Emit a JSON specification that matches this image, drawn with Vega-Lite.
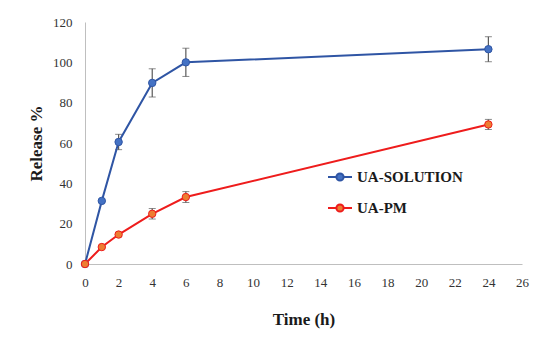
{
  "$schema": "https://vega.github.io/schema/vega-lite/v6.json",
  "width": 437,
  "height": 242,
  "autosize": {"type": "none"},
  "padding": {"left": 85, "top": 22, "right": 28, "bottom": 92},
  "background": "white",
  "config": {
    "view": {"stroke": null},
    "font": "Liberation Serif",
    "axis": {
      "grid": false,
      "ticks": false,
      "domainColor": "#bfbfbf",
      "domainWidth": 1,
      "labelFont": "Liberation Serif",
      "labelFontSize": 13,
      "labelColor": "#333333",
      "labelFlush": false,
      "titleFont": "Liberation Serif",
      "titleFontWeight": "bold",
      "titleFontSize": 17,
      "titleColor": "#1a1a1a"
    },
    "legend": {
      "title": null,
      "orient": "none",
      "legendX": 242,
      "legendY": 142,
      "symbolType": "M-1,0L-0.3,0M0.3,0L1,0M-0.3,0A0.3,0.3 0 1,1 0.3,0A0.3,0.3 0 1,1 -0.3,0Z",
      "symbolSize": 576,
      "symbolStrokeWidth": 2,
      "symbolOpacity": 1,
      "labelFont": "Liberation Serif",
      "labelFontWeight": "bold",
      "labelFontSize": 15,
      "labelColor": "#1a1a1a",
      "labelOffset": 4,
      "rowPadding": 10
    }
  },
  "data": {
    "values": [
      {"series": "UA-SOLUTION", "t": 0, "r": 0, "err": 0},
      {"series": "UA-SOLUTION", "t": 1, "r": 31.3, "err": 0},
      {"series": "UA-SOLUTION", "t": 2, "r": 60.5, "err": 3.8},
      {"series": "UA-SOLUTION", "t": 4, "r": 89.8, "err": 7},
      {"series": "UA-SOLUTION", "t": 6, "r": 100, "err": 7},
      {"series": "UA-SOLUTION", "t": 24, "r": 106.5, "err": 6.2},
      {"series": "UA-PM", "t": 0, "r": 0, "err": 0},
      {"series": "UA-PM", "t": 1, "r": 8.4, "err": 0.5},
      {"series": "UA-PM", "t": 2, "r": 14.6, "err": 1},
      {"series": "UA-PM", "t": 4, "r": 24.9, "err": 2.6},
      {"series": "UA-PM", "t": 6, "r": 33.2, "err": 2.7},
      {"series": "UA-PM", "t": 24, "r": 69.2, "err": 2.5}
    ]
  },
  "encoding": {
    "x": {
      "field": "t", "type": "quantitative",
      "scale": {"domain": [0, 26], "nice": false},
      "axis": {"values": [0,2,4,6,8,10,12,14,16,18,20,22,24,26], "title": "Time (h)", "labelPadding": 12, "titlePadding": 22}
    },
    "y": {
      "field": "r", "type": "quantitative",
      "scale": {"domain": [0, 120], "nice": false},
      "axis": {"values": [0,20,40,60,80,100,120], "title": "Release %", "labelPadding": 13, "titlePadding": 7}
    }
  },
  "layer": [
    {
      "transform": [{"filter": "datum.err > 0"}],
      "mark": {"type": "errorbar", "ticks": {"size": 7, "color": "#595959", "strokeWidth": 1.2}, "rule": {"color": "#595959", "strokeWidth": 1.2}},
      "encoding": {
        "y": {"field": "r", "type": "quantitative"},
        "yError": {"field": "err"}
      }
    },
    {
      "mark": {"type": "line", "strokeWidth": 2},
      "encoding": {
        "stroke": {
          "field": "series", "type": "nominal",
          "scale": {"domain": ["UA-SOLUTION", "UA-PM"], "range": ["#2f55a4", "#ee1c1c"]}
        }
      }
    },
    {
      "mark": {"type": "point", "filled": true, "size": 55, "strokeWidth": 1, "opacity": 1},
      "encoding": {
        "fill": {
          "field": "series", "type": "nominal",
          "scale": {"domain": ["UA-SOLUTION", "UA-PM"], "range": ["#4472c4", "#ed7d31"]}
        },
        "stroke": {
          "field": "series", "type": "nominal",
          "scale": {"domain": ["UA-SOLUTION", "UA-PM"], "range": ["#2f55a4", "#ee1c1c"]}
        }
      }
    }
  ]
}
